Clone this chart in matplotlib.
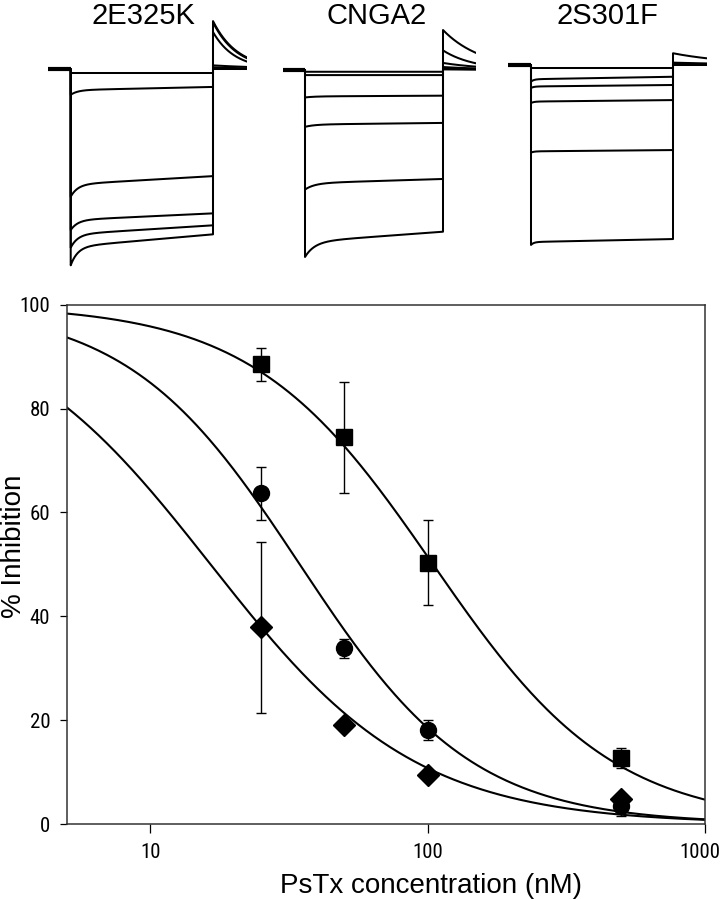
import numpy as np
import matplotlib.pyplot as plt
import matplotlib.transforms as mtransforms
from matplotlib import font_manager
from matplotlib.ticker import NullLocator

plt.rcParams['font.family'] = ['Liberation Sans', 'DejaVu Sans']

# narrow face for the tick numbers, if one is installed
installed = {f.name for f in font_manager.fontManager.ttflist}
narrow = [n for n in ['Liberation Sans Narrow', 'DejaVu Sans Condensed', 'Roboto Condensed']
          if n in installed]
TICKFONT = (narrow[:1] or []) + ['Liberation Sans', 'DejaVu Sans']
TICKSIZE = 15 if narrow else 14

# ---------------- dose-response data ----------------
conc = [25, 50, 100, 500]              # PsTx (nM)
sq_mean = [88.5, 74.5, 50.3, 12.7]
sq_err = [3.1, 10.7, 8.2, 1.9]
ci_mean = [63.7, 33.8, 18.1, 3.4]
ci_err = [5.1, 1.8, 2.0, 1.8]
di_mean = [37.9, 19.0, 9.5, 4.9]
di_err = [16.5, 0.4, 0.4, 0.4]

# Hill fits (IC50 nM, Hill coefficient)
sq_fit = [104.6, 1.334]
ci_fit = [34.6, 1.397]
di_fit = [16.5, 1.174]

# ---------------- current traces (normalised current) ----------------
titles = ['2E325K', 'CNGA2', '2S301F']
# step: peak, end of pulse; tail: peak, value at end of record
e325k_peak = [-0.02, -0.13, -0.65, -0.82, -0.91, -1.0]
e325k_end = [-0.02, -0.09, -0.545, -0.735, -0.796, -0.842]
e325k_tail_pk = [0.0, 0.01, 0.02, 0.19, 0.24, 0.246]
e325k_tail_end = [0.0, 0.005, 0.012, 0.039, 0.056, 0.06]

cnga2_peak = [-0.009, -0.026, -0.14, -0.29, -0.61, -0.954]
cnga2_end = [-0.009, -0.026, -0.131, -0.27, -0.556, -0.825]
cnga2_tail_pk = [0.003, 0.006, 0.015, 0.036, 0.10, 0.204]
cnga2_tail_end = [0.002, 0.004, 0.008, 0.017, 0.034, 0.087]

s301f_peak = [-0.014, -0.085, -0.117, -0.194, -0.447, -0.918]
s301f_end = [-0.014, -0.06, -0.102, -0.179, -0.434, -0.888]
s301f_tail_pk = [0.0, 0.002, 0.003, 0.005, 0.012, 0.06]
s301f_tail_end = [0.0, 0.001, 0.002, 0.003, 0.008, 0.034]

fast_frac = [0.6, 0.6, 0.5]
tau_fast = [5.0, 7.0, 2.0]   # ms

W, H = 725, 899
fig = plt.figure(figsize=(W / 100, H / 100), dpi=100)


def rect(x0, y0, x1, y1):
    return [x0 / W, 1 - y1 / H, (x1 - x0) / W, (y1 - y0) / H]


def trace(peak, end, tpk, tend, w, tau):
    t_on = np.linspace(0, 100, 400)
    i_on = end + (peak - end) * (w * np.exp(-t_on / tau) + (1 - w) * (1 - t_on / 100))
    t_off = np.linspace(100, 124, 120)
    if tpk > 0:
        i_off = tpk * (tend / tpk) ** ((t_off - 100) / 24)
    else:
        i_off = np.zeros_like(t_off)
    t = np.concatenate([[-16, 0], t_on, t_off])
    i = np.concatenate([[0, 0], i_on, i_off])
    return t, i


# layout in pixels: pulse on, pulse off, baseline, title centre
layout = [(70.7, 213, 69.3, 143), (305, 443, 70, 376.5), (531, 673, 65, 607)]
data = [(e325k_peak, e325k_end, e325k_tail_pk, e325k_tail_end),
        (cnga2_peak, cnga2_end, cnga2_tail_pk, cnga2_tail_end),
        (s301f_peak, s301f_end, s301f_tail_pk, s301f_tail_end)]
unit = 196.0  # px per normalised unit

for k in range(3):
    on, off, base, tx = layout[k]
    pxms = (off - on) / 100
    x0, x1 = on - 16 * pxms, off + 24 * pxms
    y0 = base - 0.26 * unit
    y1 = base + 1.03 * unit
    ax = fig.add_axes(rect(x0, y0, x1, y1))
    pk, en, tp, te = data[k]
    for j in range(len(pk)):
        t, i = trace(pk[j], en[j], tp[j], te[j], fast_frac[k], tau_fast[k])
        ax.plot(t, i, color='black', lw=1.45)
    ax.plot([-16, 0], [0, 0], color='black', lw=3.0, solid_capstyle='butt')
    ax.set_xlim(-16, 124)
    ax.set_ylim(-1.03, 0.26)
    ax.axis('off')
    fig.text(tx / W, 1 - 23.5 / H, titles[k], ha='center', va='baseline', fontsize=21)

# ---------------- dose-response plot ----------------
ax = fig.add_axes(rect(66.7, 304.7, 705, 824))
xs = np.logspace(np.log10(5), 3, 400)
for fit in [sq_fit, ci_fit, di_fit]:
    ax.plot(xs, 100 / (1 + (xs / fit[0]) ** fit[1]), color='black', lw=1.5, zorder=2)

ebkw = dict(color='black', ecolor='black', elinewidth=1.0, capsize=3.6, capthick=1.0,
            linestyle='none', zorder=3)
ax.errorbar(conc, sq_mean, yerr=sq_err, fmt='s', ms=11, **ebkw)
ax.errorbar(conc, ci_mean, yerr=ci_err, fmt='o', ms=11.5, **ebkw)
ax.errorbar(conc, di_mean, yerr=di_err, fmt='D', ms=11, **ebkw)

ax.set_xscale('log')
ax.set_xlim(5, 1000)
ax.set_ylim(0, 100)
ax.set_xticks([10, 100, 1000])
ax.set_xticklabels(['10', '100', '1000'])
ax.xaxis.set_minor_locator(NullLocator())
ax.set_yticks([0, 20, 40, 60, 80, 100])
ax.tick_params(axis='x', length=6.5, width=0.9, pad=7, labelsize=TICKSIZE)
ax.tick_params(axis='y', length=4.8, width=0.9, pad=7, labelsize=TICKSIZE)
for lab in ax.get_xticklabels() + ax.get_yticklabels():
    lab.set_family(TICKFONT)
# keep the last x label inside the figure
last = ax.get_xticklabels()[-1]
last.set_transform(last.get_transform() +
                   mtransforms.ScaledTranslation(-4 / 72, 0, fig.dpi_scale_trans))
for s in ax.spines.values():
    s.set_linewidth(1.1)
    s.set_color('0.2')

fig.text(431 / W, 1 - 893 / H, 'PsTx concentration (nM)', ha='center', va='baseline', fontsize=20)
fig.text(14 / W, 1 - 546 / H, '% Inhibition', ha='center', va='center', rotation=90, fontsize=20)

fig.savefig('out.png', dpi=100)
